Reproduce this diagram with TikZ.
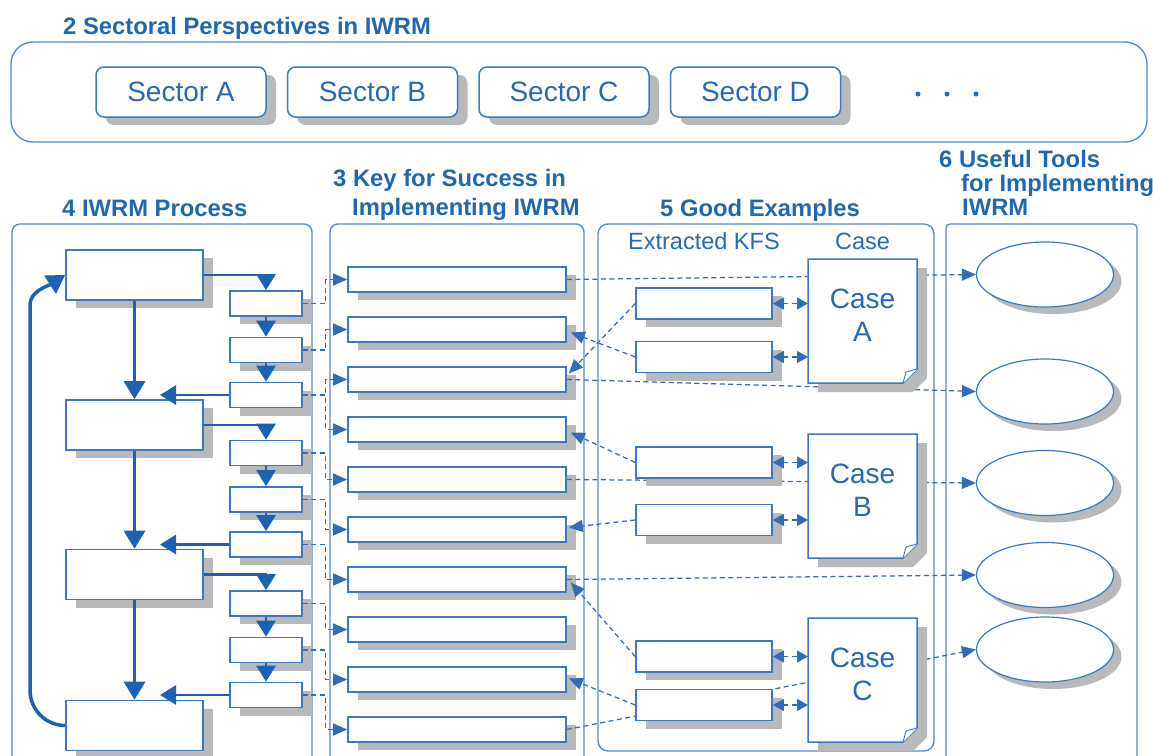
\documentclass[tikz,border=0pt]{standalone}
\usepackage{fontspec}
\setmainfont{Liberation Sans}
\usetikzlibrary{arrows.meta,shapes.geometric,shadows,calc}
\definecolor{titleblue}{RGB}{30,104,178}
\definecolor{textblue}{RGB}{36,106,182}
\definecolor{boxblue}{RGB}{58,122,194}
\definecolor{panelblue}{RGB}{84,140,206}
\definecolor{arrowblue}{RGB}{28,98,178}
\definecolor{dashblue}{RGB}{48,108,186}
\definecolor{shadowgray}{RGB}{184,185,187}

\newcommand\CaseDoc[4]{%
  \fill[shadowgray] ({#2+10},{#3+9}) -- ++(109,0) -- ++(0,110) -- ++(-14,14) -- ++(-95,0) -- cycle;
  \draw[docline] (#2,#3) -- ++(109,0) -- ++(0,110) -- ++(-14,14) -- ++(-95,0) -- cycle;
  \draw[docline,line width=0.9pt] ({#2+95},{#3+124}) -- ({#2+98},{#3+113}) -- ({#2+109},{#3+110});
  \coordinate (#1w) at (#2,{#3+62});
  \node[casetext] (#1) at ({#2+54.5},{#3+56.5}) {Case\\#4};
}

\begin{document}
\begin{tikzpicture}[x=1pt,y=-1pt,
  titlef/.style={font=\fontsize{23.8}{26}\selectfont\bfseries, text=titleblue, anchor=base west, inner sep=0pt},
  lblf/.style={font=\fontsize{23.5}{26}\selectfont, text=textblue, anchor=base west, inner sep=0pt},
  shadowed/.style={drop shadow={shadow xshift=10pt,shadow yshift=-8pt,fill=shadowgray,opacity=1}},
  panel/.style={draw=panelblue, line width=1.4pt},
  sector/.style={draw=boxblue, line width=1.5pt, fill=white, rounded corners=8pt, minimum width=170pt, minimum height=50pt, inner sep=0pt, font=\fontsize{28}{30}\selectfont, text=textblue, shadowed},
  bigbox/.style={draw=boxblue, line width=1.6pt, fill=white, minimum width=137pt, minimum height=50pt, inner sep=0pt, shadowed},
  smallbox/.style={bigbox, minimum width=72pt, minimum height=25pt},
  kfsbox/.style={bigbox, minimum width=218pt, minimum height=25pt},
  exbox/.style={bigbox, minimum width=136pt, minimum height=31pt},
  tool/.style={ellipse, draw=boxblue, line width=1.2pt, fill=white, minimum width=137pt, minimum height=65pt, inner sep=0pt, drop shadow={shadow xshift=8pt,shadow yshift=-7pt,fill=shadowgray,opacity=1}},
  docline/.style={draw=boxblue, line width=1.5pt, fill=white},
  casetext/.style={font=\fontsize{28}{33}\selectfont, text=textblue, align=center, inner sep=0pt},
  parrow/.style={draw=arrowblue, line width=2.7pt, -{Triangle[length=16pt,width=19pt]}},
  thickarrow/.style={draw=arrowblue, line width=3.5pt, -{Triangle[length=18pt,width=21pt]}},
  dline/.style={draw=dashblue, line width=1.25pt, dash pattern=on 5pt off 3.5pt},
  dconn/.style={dline, -{Triangle[length=14pt,width=12pt]}},
  dboth/.style={dline, {Triangle[length=11pt,width=12pt]}-{Triangle[length=11pt,width=12pt]}},
]
\useasboundingbox (0,0) rectangle (1153,755);
\clip (0,0) rectangle (1153,755);

% ---- section 2 ----
\node[titlef] (t2) at (63,34.5) {2 Sectoral Perspectives in IWRM};
\draw[panel, rounded corners=22pt] (11,42) rectangle (1147,142);
\node[sector] (SA) at (181,92) {Sector A};
\node[sector] (SB) at (372.5,92) {Sector B};
\node[sector] (SC) at (564,92) {Sector C};
\node[sector] (SD) at (755.5,92) {Sector D};
\fill[textblue] (918,94) circle (2.5pt);
\fill[textblue] (947,94) circle (2.5pt);
\fill[textblue] (976,94) circle (2.5pt);

% ---- titles ----
\node[titlef] (t4) at (62,216) {4 IWRM Process};
\node[titlef] (t3a) at (333,186) {3 Key for Success in};
\node[titlef] (t3b) at (352,215) {Implementing IWRM};
\node[titlef] (t5) at (660,216) {5 Good Examples};
\node[titlef] (t6a) at (939,167) {6 Useful Tools};
\node[titlef] (t6b) at (961,191) {for Implementing};
\node[titlef] (t6c) at (962,215) {IWRM};

% ---- panels ----
\draw[panel, rounded corners=8pt] (12,780) -- (12,224) -- (312,224) -- (312,780);
\draw[panel, rounded corners=8pt] (330,780) -- (330,224) -- (584,224) -- (584,780);
\draw[panel, rounded corners=10pt] (598,224) rectangle (934,751);
\draw[panel, rounded corners=4pt] (946,780) -- (946,224) -- (1137,224) -- (1137,780);

\node[lblf] (xk) at (628,249) {Extracted KFS};
\node[lblf] (cs) at (835,249) {Case};

% ---- process ----
\node[bigbox] (P1) at (134.5,275) {};
\node[bigbox] (P2) at (134.5,425) {};
\node[bigbox] (P3) at (134.5,574.5) {};
\node[bigbox] (P4) at (134.5,725.5) {};
\node[smallbox] (S1) at (266,303.5) {};
\node[smallbox] (S2) at (266,350) {};
\node[smallbox] (S3) at (266,395) {};
\node[smallbox] (S4) at (266,453) {};
\node[smallbox] (S5) at (266,499.5) {};
\node[smallbox] (S6) at (266,544.5) {};
\node[smallbox] (S7) at (266,603.5) {};
\node[smallbox] (S8) at (266,650) {};
\node[smallbox] (S9) at (266,695) {};
\coordinate (lx) at (160,0);

\draw[parrow] (P1.east) -| (S1.north);
\draw[parrow] (S1.south) -- (S2.north);
\draw[parrow] (S2.south) -- (S3.north);
\draw[parrow] (S3.west) -- (S3.west -| lx);
\draw[parrow] (P2.east) -| (S4.north);
\draw[parrow] (S4.south) -- (S5.north);
\draw[parrow] (S5.south) -- (S6.north);
\draw[parrow] (S6.west) -- (S6.west -| lx);
\draw[parrow] (P3.east) -| (S7.north);
\draw[parrow] (S7.south) -- (S8.north);
\draw[parrow] (S8.south) -- (S9.north);
\draw[parrow] (S9.west) -- (S9.west -| lx);
\draw[thickarrow] (P1.south) -- (P2.north);
\draw[thickarrow] (P2.south) -- (P3.north);
\draw[thickarrow] (P3.south) -- (P4.north);
\draw[thickarrow] (P4.west) .. controls (46,725.5) and (30,710) .. (30,690) -- (30,305) .. controls (30,291) and (48,286) .. (P1.west);

% ---- KFS list ----
\foreach \k in {1,...,10} {
  \node[kfsbox] (K\k) at (457,{279.5+50*(\k-1)}) {};
}
\draw[dconn] (S1.east) -- ++(23,0) |- (K1.west);
\draw[dconn] (S2.east) -- ++(23,0) |- (K2.west);
\draw[dconn] (S3.east) -- ++(23,0) |- (K3.west);
\draw[dconn] (S3.east) -- ++(23,0) |- (K4.west);
\draw[dconn] (S4.east) -- ++(23,0) |- (K5.west);
\draw[dconn] (S5.east) -- ++(23,0) |- (K6.west);
\draw[dconn] (S6.east) -- ++(23,0) |- (K7.west);
\draw[dconn] (S7.east) -- ++(23,0) |- (K8.west);
\draw[dconn] (S8.east) -- ++(23,0) |- (K9.west);
\draw[dconn] (S9.east) -- ++(23,0) |- (K10.west);

% ---- tools ----
\node[tool] (T1) at (1045,274.5) {};
\node[tool] (T2) at (1045,391.5) {};
\node[tool] (T3) at (1045,483) {};
\node[tool] (T4) at (1045,575) {};
\node[tool] (T5) at (1045,649.5) {};

\draw[dconn] (K1.east) -- (T1.west);
\draw[dconn] (K3.east) -- (T2.west);
\draw[dconn] (K5.east) -- (T3.west);
\draw[dconn] (K7.east) -- (T4.west);
\draw[dconn] (K10.east) -- (T5.west);

% ---- good examples ----
\node[exbox] (E1) at (704,303.5) {};
\node[exbox] (E2) at (704,357) {};
\node[exbox] (E3) at (704,462.5) {};
\node[exbox] (E4) at (704,520) {};
\node[exbox] (E5) at (704,656.5) {};
\node[exbox] (E6) at (704,705) {};

\CaseDoc{CA}{808}{259}{A}
\CaseDoc{CB}{808}{434}{B}
\CaseDoc{CC}{808}{618}{C}

\draw[dconn] (E1.west) -- ($(K3.east)+(2,-6)$);
\draw[dconn] (E2.west) -- ($(K2.east)+(4,3)$);
\draw[dconn] (E3.west) -- ($(K4.east)+(4,3)$);
\draw[dconn] (E4.west) -- ($(K6.east)+(2,-2)$);
\draw[dconn] (E5.west) -- ($(K7.east)+(4,3)$);
\draw[dconn] (E6.west) -- ($(K9.east)+(2,-1)$);

\draw[dboth] (E1.east) -- (E1.east -| CAw);
\draw[dboth] (E2.east) -- (E2.east -| CAw);
\draw[dboth] (E3.east) -- (E3.east -| CBw);
\draw[dboth] (E4.east) -- (E4.east -| CBw);
\draw[dboth] (E5.east) -- (E5.east -| CCw);
\draw[dboth] (E6.east) -- (E6.east -| CCw);
\end{tikzpicture}
\end{document}
